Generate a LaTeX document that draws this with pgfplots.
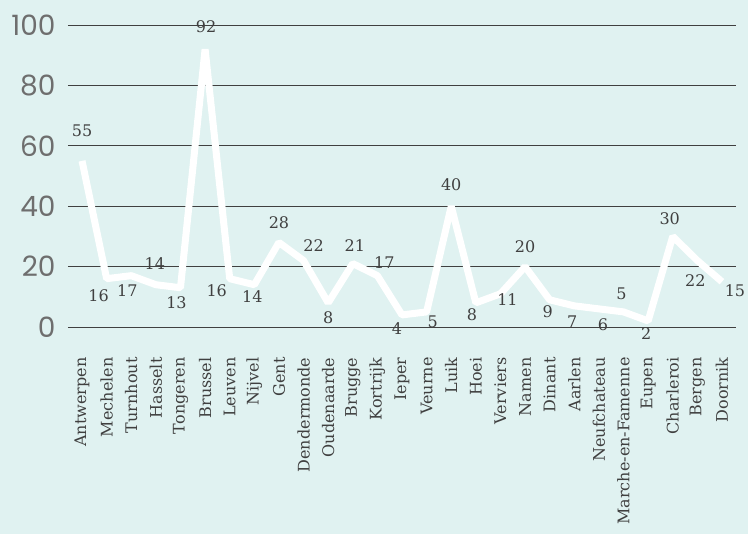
\documentclass[border=0pt]{standalone}
\usepackage{fontspec}
\usepackage{pgfplots}
\usepackage{pgfplotstable}
\pgfplotsset{compat=1.18}
\newfontfamily\serif{DejaVu Serif}
\newfontfamily\pop{Poppins}
\definecolor{bgcol}{HTML}{E0F2F1}
\definecolor{gridc}{HTML}{404040}
\definecolor{tickc}{HTML}{6E6E6E}
\definecolor{labc}{HTML}{404040}
\pgfplotstableread{
x y dx dy
0 55 0 30
1 16 -8 -17
2 17 -4 -15
3 14 -1 21
4 13 -4 -15
5 92 1 22
6 16 -13 -12
7 14 -2 -12
8 28 0 20
9 22 10 15
10 8 0 -15
11 21 2 18
12 17 7 13
13 4 -5 -14
14 5 6 -10
15 40 0 22
16 8 -4 -12
17 11 7 -6
18 20 0 20
19 9 -2 -12
20 7 -2 -16
21 6 4 -16
22 5 -2 18
23 2 -2 -13
24 30 -3 18
25 22 -2 -20
26 15 13 -9
}\datatable
\begin{document}
\begin{tikzpicture}
\fill[bgcol] (0,0) rectangle (748pt,-534pt);
\begin{axis}[
  at={(68pt,-327pt)}, anchor=south west,
  scale only axis, width=668pt, height=302pt,
  xmin=-0.57, xmax=26.57, ymin=0, ymax=100,
  clip=false,
  axis line style={draw=none},
  major tick length=0pt,
  ymajorgrids, grid style={gridc, line width=0.9pt},
  ytick={0,20,...,100},
  xtick={0,...,26},
  xticklabels={Antwerpen,Mechelen,Turnhout,Hasselt,Tongeren,Brussel,Leuven,Nijvel,Gent,Dendermonde,Oudenaarde,Brugge,Kortrijk,Ieper,Veurne,Luik,Hoei,Verviers,Namen,Dinant,Aarlen,Neufchateau,Marche-en-Famenne,Eupen,Charleroi,Bergen,Doornik},
  /pgf/number format/assume math mode=true,
  yticklabel style={font=\pop\fontsize{28}{28}\selectfont, text=tickc, xshift=-9pt},
  xticklabel style={font=\serif\fontsize{16}{16}\selectfont, text=labc, rotate=90, anchor=east},
  xticklabel shift=27pt,
]
\addplot[white, line width=7pt, line join=bevel, line cap=butt,
  nodes near coords, point meta=y,
  visualization depends on={\thisrow{dx}\as\dx},
  visualization depends on={\thisrow{dy}\as\dy},
  every node near coord/.append style={anchor=center, xshift=\dx pt, yshift=\dy pt,
    font=\serif\fontsize{16}{16}\selectfont, text=labc}]
  table[x=x, y=y] {\datatable};
\end{axis}
\pgfresetboundingbox
\path (0,0) rectangle (748pt,-534pt);
\end{tikzpicture}
\end{document}
